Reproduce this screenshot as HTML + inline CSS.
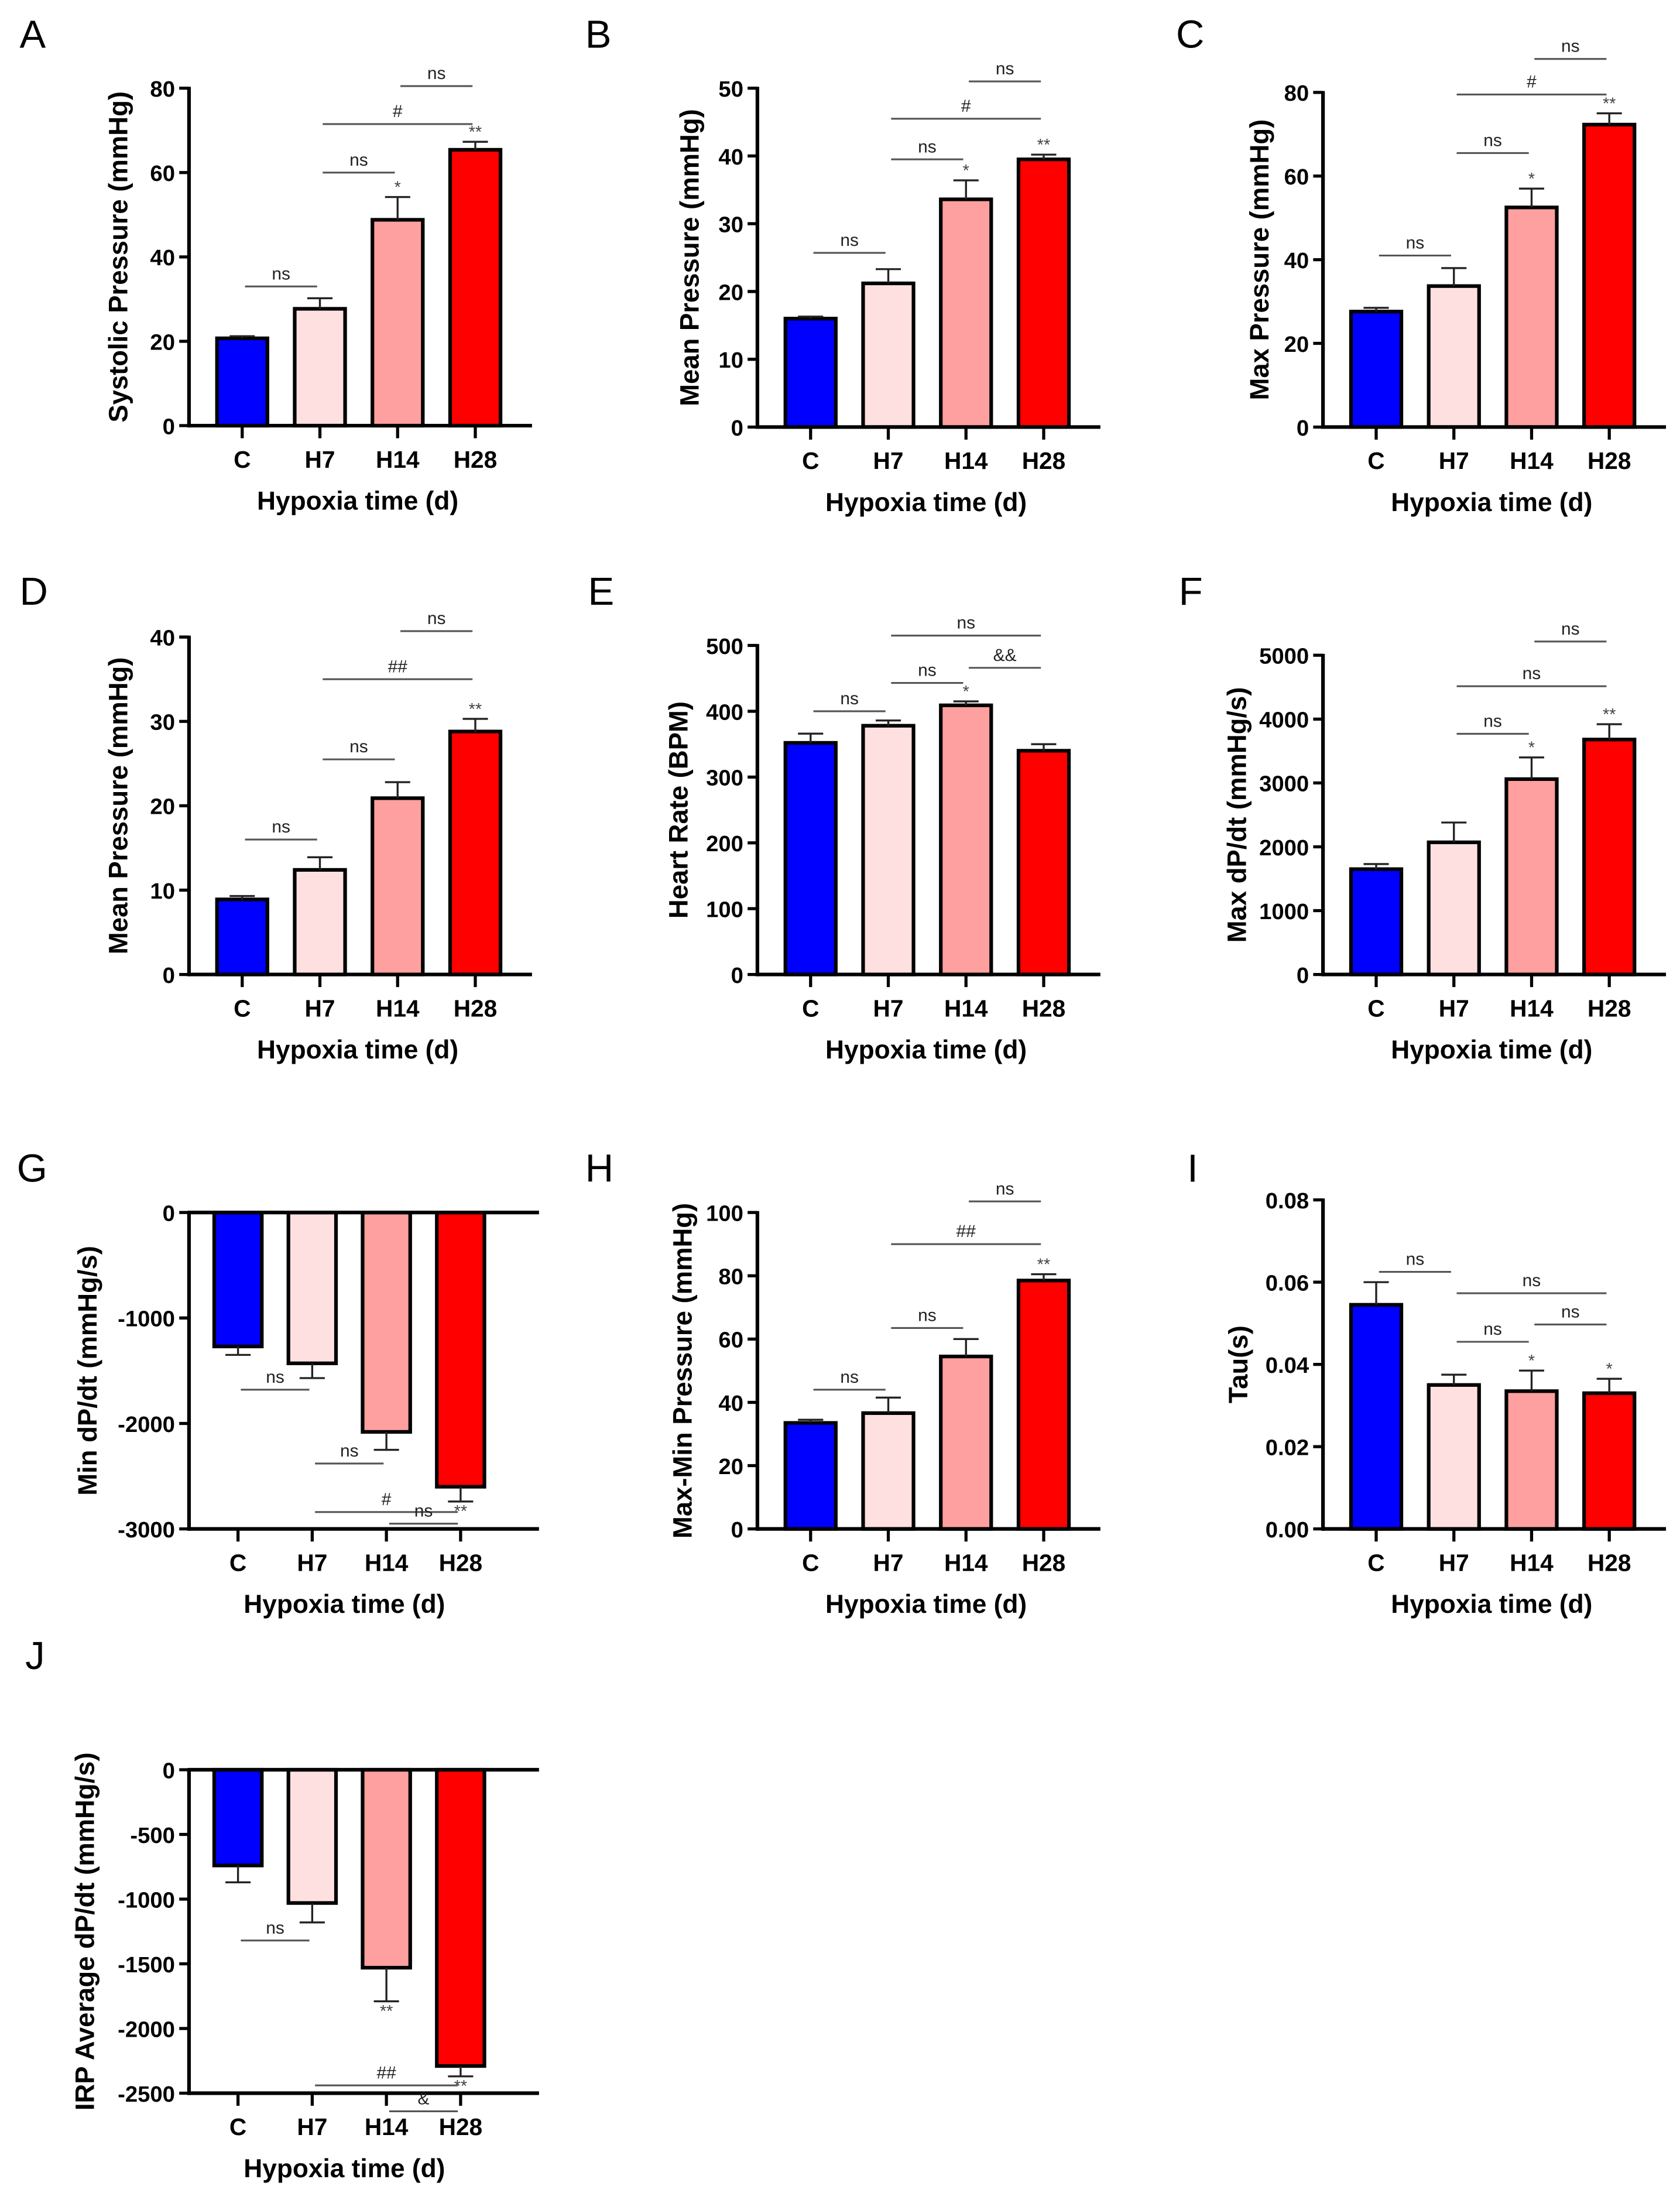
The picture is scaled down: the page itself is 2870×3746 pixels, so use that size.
<!DOCTYPE html>
<html><head><meta charset="utf-8"><style>
html,body{margin:0;padding:0;background:#fff;}
svg{display:block;font-family:"Liberation Sans",Arial,sans-serif;}
</style></head>
<body>
<svg id="fig" xmlns="http://www.w3.org/2000/svg" width="2870" height="3746" viewBox="0 0 1200 1566.3"></svg>
<script>
const categories = ["C","H7","H14","H28"];
const colors = ["#0000ff","#ffe0e0","#ffa0a0","#ff0000"];

const valuesA = [20.7, 27.7, 48.8, 65.4];
const errorsA = [21.2, 30.2, 54.2, 67.3];
const ticksA = [0,20,40,60,80];
const bracketsA = [[0,1,33,"ns"],[1,2,60,"ns"],[1,3,71.5,"#"],[2,3,80.5,"ns"]];
const starsA = ["","","*","**"];

const valuesB = [16, 21.2, 33.6, 39.5];
const errorsB = [16.3, 23.3, 36.4, 40.2];
const ticksB = [0,10,20,30,40,50];
const bracketsB = [[0,1,25.7,"ns"],[1,2,39.5,"ns"],[1,3,45.5,"#"],[2,3,51,"ns"]];
const starsB = ["","","*","**"];

const valuesC = [27.6, 33.7, 52.5, 72.3];
const errorsC = [28.5, 38, 57, 75];
const ticksC = [0,20,40,60,80];
const bracketsC = [[0,1,41,"ns"],[1,2,65.5,"ns"],[1,3,79.5,"#"],[2,3,88,"ns"]];
const starsC = ["","","*","**"];

const valuesD = [8.9, 12.4, 20.9, 28.8];
const errorsD = [9.3, 13.9, 22.8, 30.3];
const ticksD = [0,10,20,30,40];
const bracketsD = [[0,1,16,"ns"],[1,2,25.5,"ns"],[1,3,35,"##"],[2,3,40.7,"ns"]];
const starsD = ["","","","**"];

const valuesE = [352, 378, 409, 340];
const errorsE = [366, 386, 415, 350];
const ticksE = [0,100,200,300,400,500];
const bracketsE = [[0,1,400,"ns"],[1,2,443,"ns"],[2,3,466,"&&"],[1,3,515,"ns"]];
const starsE = ["","","*",""];

const valuesF = [1650, 2070, 3060, 3680];
const errorsF = [1730, 2380, 3400, 3920];
const ticksF = [0,1000,2000,3000,4000,5000];
const bracketsF = [[1,2,3770,"ns"],[1,3,4515,"ns"],[2,3,5215,"ns"]];
const starsF = ["","","*","**"];

const valuesG = [-1270, -1430, -2080, -2600];
const errorsG = [-1350, -1570, -2250, -2740];
const ticksG = [0,-1000,-2000,-3000];
const bracketsG = [[0,1,-1680,"ns"],[1,2,-2380,"ns"],[1,3,-2840,"#"],[2,3,-2950,"ns"]];
const starsG = ["","","","**"];

const valuesH = [33.5, 36.6, 54.5, 78.5];
const errorsH = [34.5, 41.5, 60, 80.5];
const ticksH = [0,20,40,60,80,100];
const bracketsH = [[0,1,44,"ns"],[1,2,63.5,"ns"],[1,3,90,"##"],[2,3,103.5,"ns"]];
const starsH = ["","","","**"];

const valuesI = [0.0545, 0.035, 0.0335, 0.033];
const errorsI = [0.06, 0.0375, 0.0385, 0.0365];
const ticksI = [0,0.02,0.04,0.06,0.08];
const tickLabelsI = ["0.00","0.02","0.04","0.06","0.08"];
const bracketsI = [[0,1,0.0625,"ns"],[1,3,0.0573,"ns"],[1,2,0.0455,"ns"],[2,3,0.0497,"ns"]];
const starsI = ["","","*","*"];

const valuesJ = [-740, -1030, -1530, -2290];
const errorsJ = [-870, -1180, -1790, -2370];
const ticksJ = [0,-500,-1000,-1500,-2000,-2500];
const bracketsJ = [[0,1,-1320,"ns"],[1,3,-2440,"##"],[2,3,-2640,"&"]];
const starsJ = ["","","**","**"];

const NS = "http://www.w3.org/2000/svg";
const svg = document.getElementById("fig");
function mk(tag, attrs, parent, text){
  const e = document.createElementNS(NS, tag);
  for (const k in attrs) e.setAttribute(k, attrs[k]);
  if (text !== undefined) e.textContent = text;
  (parent||svg).appendChild(e);
  return e;
}

const panels = [
 {id:"a",letter:"A",lx:14,ly:34,ax:135,y0:304,ytop:63,min:0,max:80,vals:valuesA,errs:errorsA,ticks:ticksA,br:bracketsA,stars:starsA,title:"Systolic Pressure (mmHg)",tx:84},
 {id:"b",letter:"B",lx:418,ly:34,ax:541,y0:305,ytop:63,min:0,max:50,vals:valuesB,errs:errorsB,ticks:ticksB,br:bracketsB,stars:starsB,title:"Mean Pressure (mmHg)",tx:492},
 {id:"c",letter:"C",lx:840,ly:34,ax:945,y0:305,ytop:66,min:0,max:80,vals:valuesC,errs:errorsC,ticks:ticksC,br:bracketsC,stars:starsC,title:"Max Pressure (mmHg)",tx:899},
 {id:"d",letter:"D",lx:14,ly:432,ax:135,y0:696,ytop:455,min:0,max:40,vals:valuesD,errs:errorsD,ticks:ticksD,br:bracketsD,stars:starsD,title:"Mean Pressure (mmHg)",tx:84},
 {id:"e",letter:"E",lx:420,ly:432,ax:541,y0:696,ytop:461,min:0,max:500,vals:valuesE,errs:errorsE,ticks:ticksE,br:bracketsE,stars:starsE,title:"Heart Rate (BPM)",tx:484},
 {id:"f",letter:"F",lx:842,ly:432,ax:945,y0:696,ytop:468,min:0,max:5000,vals:valuesF,errs:errorsF,ticks:ticksF,br:bracketsF,stars:starsF,title:"Max dP/dt (mmHg/s)",tx:883},
 {id:"g",letter:"G",lx:12,ly:844,ax:135,y0:866,ytop:1092,min:0,max:-3000,vals:valuesG,errs:errorsG,ticks:ticksG,br:bracketsG,stars:starsG,title:"Min dP/dt (mmHg/s)",tx:62,neg:true},
 {id:"h",letter:"H",lx:418,ly:844,ax:541,y0:1092,ytop:866,min:0,max:100,vals:valuesH,errs:errorsH,ticks:ticksH,br:bracketsH,stars:starsH,title:"Max-Min Pressure (mmHg)",tx:487},
 {id:"i",letter:"I",lx:848,ly:844,ax:945,y0:1092,ytop:857,min:0,max:0.08,vals:valuesI,errs:errorsI,ticks:ticksI,tl:tickLabelsI,br:bracketsI,stars:starsI,title:"Tau(s)",tx:884},
 {id:"j",letter:"J",lx:18,ly:1192,ax:135,y0:1264,ytop:1495,min:0,max:-2500,vals:valuesJ,errs:errorsJ,ticks:ticksJ,br:bracketsJ,stars:starsJ,title:"IRP Average dP/dt (mmHg/s)",tx:60,neg:true}
];

panels.forEach(p => {
  const g = mk("g", {});
  
  
  const yS = v => p.y0 + (v - p.min) / (p.max - p.min) * (p.ytop - p.y0);
  const neg = !!p.neg;
  const spacing = neg ? 53 : 55.5;
  const xC = i => p.ax + (neg ? 35 : 38) + i * spacing;
  const bw = neg ? 34 : 36;
  const bottomY = neg ? p.ytop : p.y0;
  const xEnd = p.ax + (neg ? 250 : 245);

  const lt = mk("text", {x:p.lx, y:p.ly, "font-size":28, fill:"#000"}, g, p.letter);
  
  

  p.vals.forEach((v, i) => {
    const y1 = yS(0), y2 = yS(v);
    const r = mk("rect", {x:xC(i)-bw/2, y:Math.min(y1,y2), width:bw, height:Math.abs(y2-y1), fill:colors[i], stroke:"#000", "stroke-width":2.6}, g);
    
    
    const ye = yS(p.errs[i]);
    const eb = mk("path", {d:`M${xC(i)},${y2} L${xC(i)},${ye} M${xC(i)-9},${ye} L${xC(i)+9},${ye}`, stroke:"#222", "stroke-width":1.4, fill:"none"}, g);
    
    
    if (p.stars[i]) {
      const sy = neg ? ye + 11 : ye - 3;
      const st = mk("text", {x:xC(i), y:sy, "font-size":12, "text-anchor":"middle", fill:"#444"}, g, p.stars[i]);
      
      
    }
  });

  const ya = mk("line", {x1:p.ax, y1:Math.min(p.y0,p.ytop)-1, x2:p.ax, y2:Math.max(p.y0,p.ytop)+1.3, stroke:"#000", "stroke-width":2.6}, g);
  
  
  const xa = mk("line", {x1:p.ax-1, y1:bottomY, x2:xEnd, y2:bottomY, stroke:"#000", "stroke-width":2.6}, g);
  
  
  if (neg) {
    const zl = mk("line", {x1:p.ax-1, y1:p.y0, x2:xEnd, y2:p.y0, stroke:"#000", "stroke-width":2.6}, g);
    
    
  }
  p.ticks.forEach((t, k) => {
    const y = yS(t);
    mk("line", {x1:p.ax-7, y1:y, x2:p.ax, y2:y, stroke:"#000", "stroke-width":2.2}, g);
    const tl = mk("text", {x:p.ax-10, y:y+6, "font-size":16, "font-weight":"bold", "text-anchor":"end", fill:"#000"}, g, p.tl ? p.tl[k] : String(t));
    
    
  });
  categories.forEach((c, i) => {
    mk("line", {x1:xC(i), y1:bottomY, x2:xC(i), y2:bottomY+9, stroke:"#000", "stroke-width":2.2}, g);
    const cl = mk("text", {x:xC(i), y:bottomY+30, "font-size":17, "font-weight":"bold", "text-anchor":"middle", fill:"#000"}, g, c);
    
    
  });
  const xtx = (p.ax + xEnd)/2 + (neg ? -14 : -2);
  const xt = mk("text", {x:xtx, y:bottomY+60, "font-size":18.5, "font-weight":"bold", "text-anchor":"middle", fill:"#000"}, g, "Hypoxia time (d)");
  
  
  const cy = (p.y0 + p.ytop) / 2;
  const yt = mk("text", {x:0, y:0, transform:`translate(${p.tx + 7},${cy}) rotate(-90)`, "font-size":19, "font-weight":"bold", "text-anchor":"middle", fill:"#000"}, g, p.title);
  
  

  p.br.forEach(b => {
    const y = yS(b[2]);
    const x1 = xC(b[0]) + 2, x2 = xC(b[1]) - 2;
    const bl = mk("line", {x1:x1, y1:y, x2:x2, y2:y, stroke:"#555", "stroke-width":1.3}, g);
    
    
    const lb = mk("text", {x:(x1+x2)/2, y:y-5, "font-size":12.5, "text-anchor":"middle", fill:"#222"}, g, b[3]);
    
    
  });
});
</script>
</body></html>
